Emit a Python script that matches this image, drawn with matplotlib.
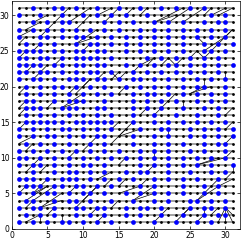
import matplotlib
matplotlib.use("Agg")
import matplotlib.pyplot as plt

N = 31
cols = list(range(1, N + 1))
rows = list(range(1, N + 1))

# blue (selected) nodes, one list per row, row 1 first
blue_by_row = [
    [1, 3, 5, 7, 8, 10, 12, 14, 17, 20, 23, 26, 28],
    [2, 4, 6, 9, 11, 13, 16, 18, 21, 24, 27, 29, 30],
    [1, 3, 4, 6, 9, 10, 12, 13, 16, 18, 19, 21, 25, 27, 28, 30],
    [2, 3, 6, 8, 9, 11, 14, 17, 20, 22, 25, 26, 28, 30],
    [1, 3, 5, 6, 8, 10, 11, 13, 16, 18, 20, 22, 24, 27, 29],
    [2, 3, 4, 6, 7, 9, 10, 12, 14, 18, 20, 24, 27, 29],
    [1, 2, 3, 5, 7, 8, 9, 11, 13, 15, 17, 20, 22, 24, 26, 29],
    [3, 6, 8, 9, 11, 13, 16, 18, 19, 22, 25, 28, 30],
    [1, 3, 4, 6, 8, 10, 11, 13, 18, 20, 22, 24, 26, 28, 31],
    [1, 2, 4, 6, 8, 10, 12, 14, 16, 18, 20, 22, 24, 26, 28, 30],
    [1, 3, 5, 7, 9, 11, 13, 15, 18, 20, 22, 25, 27, 30],
    [2, 4, 6, 8, 11, 13, 17, 20, 22, 24, 27, 29, 30],
    [1, 3, 5, 6, 8, 10, 12, 13, 17, 20, 22, 25, 27, 29, 31],
    [1, 3, 5, 7, 8, 10, 12, 14, 18, 21, 22, 25, 27, 29, 31],
    [2, 3, 4, 5, 6, 7, 9, 10, 11, 12, 13, 14, 17, 20, 22, 24, 26, 28, 30],
    [2, 4, 6, 8, 10, 12, 14, 17, 20, 23, 26, 29],
    [2, 3, 4, 7, 8, 9, 12, 13, 17, 19, 21, 24, 27, 29],
    [2, 3, 6, 8, 9, 10, 13, 17, 19, 21, 23, 26, 28, 30],
    [2, 4, 6, 8, 10, 12, 14, 17, 19, 20, 22, 24, 26, 28, 30],
    [2, 4, 6, 7, 9, 11, 13, 16, 18, 20, 22, 24, 26, 27, 30],
    [1, 3, 4, 6, 8, 9, 10, 12, 13, 15, 17, 18, 20, 22, 24, 26, 28, 30],
    [1, 2, 4, 5, 7, 9, 11, 12, 14, 17, 19, 21, 23, 25, 27, 29],
    [1, 2, 3, 4, 6, 7, 9, 10, 12, 13, 16, 18, 20, 22, 23, 25, 27, 29, 31],
    [1, 2, 4, 5, 7, 9, 10, 11, 12, 14, 19, 21, 23, 25, 27, 29],
    [1, 2, 3, 4, 6, 7, 9, 10, 12, 13, 16, 18, 20, 22, 24, 27, 28, 30],
    [2, 4, 6, 9, 11, 12, 14, 16, 18, 20, 22, 24, 27, 29, 31],
    [1, 4, 5, 7, 9, 10, 12, 14, 16, 18, 20, 22, 24, 26, 28, 30],
    [1, 3, 5, 7, 9, 11, 13, 15, 18, 20, 22, 24, 26, 28, 30],
    [3, 5, 7, 8, 13, 15, 17, 20, 22, 24, 27, 29, 30],
    [1, 4, 7, 10, 12, 14, 16, 19, 28, 30],
    [3, 6, 7, 9, 12, 15, 18, 21, 23, 25, 27],
]

# extra black links between nodes: (x0, y0, x1, y1)
links = [
    # top band
    (1, 24, 2, 25), (1, 27, 3, 28), (2, 28, 4, 29), (4, 27, 5, 28),
    (5, 28, 6, 29), (6, 29, 7, 30), (7, 30, 8, 31), (8, 29, 11, 31),
    (9, 28, 11, 30), (9, 26, 12, 28), (9, 26, 12, 27), (13, 29, 14, 30),
    (14, 30, 15, 31), (12, 30, 14, 31), (1, 26, 2, 27), (3, 29, 5, 30),
    (16, 30, 17, 31), (20, 29, 24, 31), (20, 29, 23, 30), (22, 29, 25, 31),
    (24, 29, 27, 31), (28, 30, 30, 31), (29, 30, 31, 31), (26, 27, 27, 26),
    (27, 25, 30, 27), (28, 25, 31, 28), (25, 24, 26, 25), (26, 25, 27, 24),
    (27, 24, 28, 25), (30, 27, 31, 28), (10, 25, 11, 26), (3, 25, 4, 26),
    (18, 30, 19, 31), (27, 30, 28, 31),
    # upper middle
    (6, 23, 7, 24), (3, 21, 4, 22), (4, 22, 5, 23), (1, 19, 2, 20),
    (1, 17, 2, 18), (1, 16, 2, 17), (5, 17, 6, 18), (7, 17, 10, 19),
    (7, 17, 10, 18), (8, 19, 9, 20), (9, 19, 11, 21), (14, 21, 15, 22),
    (14, 22, 15, 21), (15, 19, 16, 20), (15, 21, 16, 22), (17, 22, 18, 23),
    (18, 23, 20, 24), (19, 23, 20, 24), (21, 23, 22, 24), (22, 24, 23, 23),
    (23, 23, 24, 24), (30, 21, 30, 22), (27, 20, 27, 21), (25, 19, 28, 20),
    (25, 19, 27, 20), (22, 18, 23, 19), (24, 17, 24, 18), (18, 16, 19, 17),
    (20, 16, 21, 17), (21, 17, 22, 18), (30, 16, 31, 17), (12, 21, 13, 22),
    (2, 22, 3, 23), (10, 20, 11, 21),
    # lower middle
    (1, 14, 2, 15), (1, 12, 3, 13), (3, 9, 4, 10), (4, 8, 5, 9),
    (2, 8, 3, 9), (10, 11, 11, 12), (11, 12, 12, 13), (14, 14, 15, 15),
    (14, 12, 15, 13), (15, 13, 16, 14), (15, 13, 17, 15), (15, 13, 18, 14),
    (22, 13, 22, 14), (20, 10, 20, 11), (26, 9, 29, 10), (26, 9, 30, 10),
    (30, 14, 31, 15), (30, 12, 31, 13), (15, 9, 16, 10), (19, 8, 20, 9),
    (31, 8, 31, 9), (30, 10, 31, 11), (8, 10, 9, 11), (2, 11, 3, 12),
    # bottom band
    (1, 5, 2, 6), (3, 5, 5, 6), (3, 5, 5, 7), (2, 4, 5, 6), (3, 4, 6, 6),
    (2, 3, 3, 4), (4, 3, 7, 4), (4, 3, 7, 5), (5, 2, 6, 3), (2, 1, 4, 2),
    (4, 1, 4, 2), (7, 1, 7, 2), (9, 3, 12, 6), (10, 4, 12, 6), (12, 7, 14, 8),
    (12, 1, 13, 2), (14, 3, 15, 4), (15, 6, 16, 7), (11, 2, 12, 3),
    (15, 5, 18, 6), (17, 4, 20, 6), (17, 4, 20, 5), (18, 6, 19, 7),
    (20, 1, 22, 3), (23, 1, 25, 3), (24, 2, 25, 3), (26, 1, 27, 2),
    (26, 4, 29, 6), (26, 4, 29, 7), (27, 2, 27, 3), (28, 2, 29, 3),
    (30, 3, 29, 1), (30, 3, 30, 1), (30, 3, 31, 1), (30, 3, 31, 2),
    (29, 6, 31, 7), (30, 7, 31, 8), (8, 5, 9, 6), (13, 6, 14, 7),
]

fig = plt.figure(figsize=(2.41, 2.41), dpi=100)
ax = fig.add_axes([11.7 / 241, 12 / 241, 228 / 241, 228 / 241])

for y in rows:
    ax.plot([cols[0], cols[-1]], [y, y], color="#9a9a9a", lw=1.3,
            solid_capstyle="butt", zorder=1)

for x0, y0, x1, y1 in links:
    ax.plot([x0, x1], [y0, y1], color="black", lw=0.5, zorder=2)

gx = [x for y in rows for x in cols]
gy = [y for y in rows for x in cols]
ax.plot(gx, gy, "o", color="black", ms=2.0, mew=0, zorder=3)

bx = [x for y, row in zip(rows, blue_by_row) for x in row]
by = [y for y, row in zip(rows, blue_by_row) for x in row]
ax.plot(bx, by, "o", color="#0000ff", ms=3.4, mew=0, zorder=4)

ax.set_xlim(0, 32)
ax.set_ylim(0, 32)
ax.set_xticks([0, 5, 10, 15, 20, 25, 30])
ax.set_yticks([0, 5, 10, 15, 20, 25, 30])
ax.tick_params(direction="in", length=2, width=0.5, labelsize=5.5, pad=1.5,
               top=True, right=True)
for side in ax.spines.values():
    side.set_linewidth(0.5)

fig.savefig("out.png", dpi=100)
